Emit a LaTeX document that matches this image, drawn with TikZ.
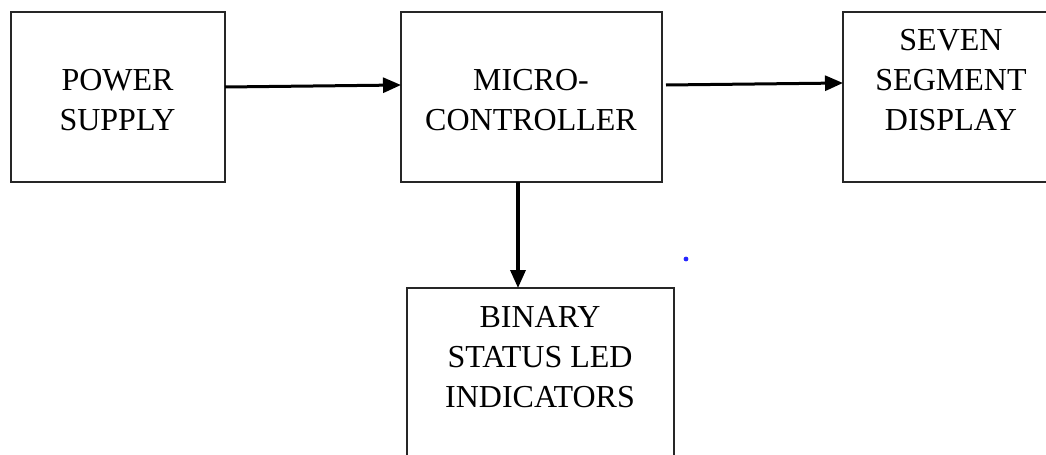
\documentclass[tikz,border=0pt]{standalone}
\usepackage{fontspec}
\setmainfont{Liberation Serif}
\usetikzlibrary{arrows.meta}
\tikzset{
  blk/.style={draw=black!85, line width=1pt, inner sep=0pt, outer sep=0pt, fill=none},
  lbl/.style={align=center, inner sep=0pt, font=\fontsize{16}{20}\selectfont},
  arr/.style={line width=1.5pt, -{Triangle[length=9pt,width=7.5pt]}}
}
\begin{document}
\begin{tikzpicture}[x=0.5pt,y=-0.5pt]
\clip (0,0) rectangle (1046,455);
\fill[white] (0,0) rectangle (1046,455);
% boxes
\node[blk, minimum width=107.25pt, minimum height=85pt] (ps) at (117.75,97) {};
\node[blk, minimum width=130.5pt, minimum height=85pt] (mc) at (531.5,97) {};
\node[blk, minimum width=108pt, minimum height=85pt] (ss) at (951,97) {};
\node[blk, minimum width=133.5pt, minimum height=95pt] (bl) at (540.5,383) {};
% labels
\node[lbl] (pst) at (117.5,100) {POWER\\SUPPLY};
\node[lbl] (mct) at (531,100) {MICRO-\\CONTROLLER};
\node[lbl] (sst) at (951,80) {SEVEN\\SEGMENT\\DISPLAY};
\node[lbl] (blt) at (540,357) {BINARY\\STATUS LED\\INDICATORS};
% connectors
\draw[arr] ([yshift=5pt]ps.east) -- ([yshift=6pt]mc.west);
\draw[arr] ([xshift=2pt,yshift=6pt]mc.east) -- ([yshift=7pt]ss.west);
\draw[arr, line width=1.7pt] ([xshift=-6.75pt]mc.south) -- ([xshift=-6.75pt]mc.south |- bl.north);
% stray mark
\fill[blue!85] (686,259) circle (2.4);
\end{tikzpicture}
\end{document}
